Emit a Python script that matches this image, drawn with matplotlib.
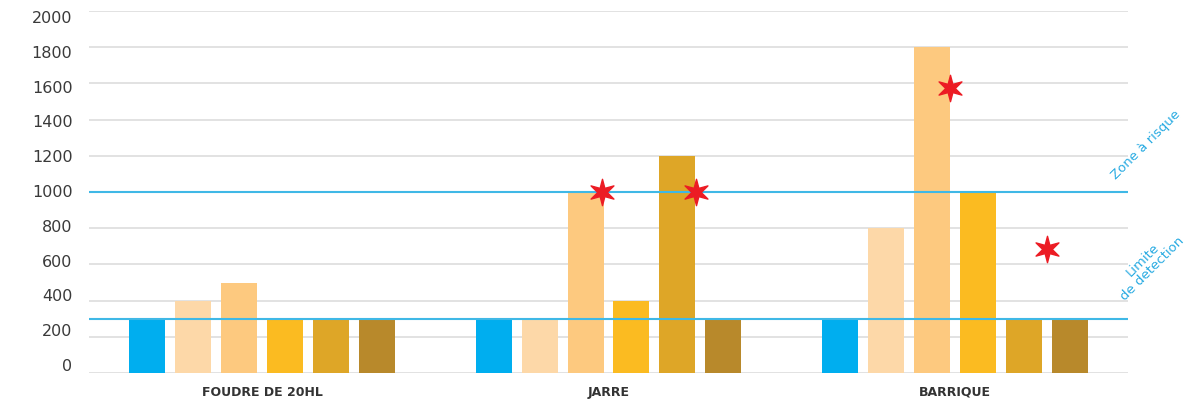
import matplotlib

matplotlib.use("Agg")
import matplotlib.pyplot as plt
import matplotlib.transforms as mtransforms
import numpy as np
from matplotlib.path import Path

# Data
groups = ["FOUDRE DE 20HL", "JARRE", "BARRIQUE"]
series_colors = ["#00AEEF", "#FDD8A8", "#FDC97F", "#FBBB21", "#DEA627", "#B8892B"]
foudre = [300, 400, 500, 300, 300, 300]
jarre = [300, 300, 1000, 400, 1200, 300]
barrique = [300, 800, 1800, 1000, 300, 300]
values = [foudre, jarre, barrique]

# red stars: (group index, bar index, value, shift right in bar steps)
stars_group = [1, 1, 2, 2]
stars_bar = [2, 4, 2, 4]
stars_value = [1000, 1000, 1575, 685]
stars_shift = [0.35, 0.4, 0.4, 0.5]

detection_limit = 300
risk_zone = 1000
yticks = list(range(0, 2001, 200))

BLUE_LINE = "#3FB8E6"
GRID = "#DADADA"
STEP = 0.1326
WIDTH = 0.104


def star_marker(points=6, inner=0.36):
    angles = np.linspace(0, 2 * np.pi, 2 * points, endpoint=False) + np.pi / 2
    radii = np.where(np.arange(2 * points) % 2 == 0, 1.0, inner)
    verts = np.column_stack([radii * np.cos(angles), radii * np.sin(angles)])
    verts = np.vstack([verts, verts[:1]])
    codes = [Path.MOVETO] + [Path.LINETO] * (2 * points - 1) + [Path.CLOSEPOLY]
    return Path(verts, codes)


fig = plt.figure(figsize=(11.89, 4.01), dpi=100)
ax = fig.add_axes([0.0749, 0.0698, 0.8738, 0.9028])

for y in yticks:
    ax.axhline(y, color=GRID, linewidth=1.1, zorder=0)
ax.axhline(risk_zone, color=BLUE_LINE, linewidth=1.5, zorder=3)
ax.axhline(detection_limit, color=BLUE_LINE, linewidth=1.5, zorder=3)

for g, vals in enumerate(values):
    xs = g + (np.arange(len(vals)) - 2.5) * STEP
    ax.bar(xs, vals, width=WIDTH, color=series_colors, zorder=2)

marker = star_marker()
for g, b, v, s in zip(stars_group, stars_bar, stars_value, stars_shift):
    x = g + (b - 2.5 + s) * STEP
    ax.plot(x, v, marker=marker, markersize=19, color="#EC1C24",
            linestyle="none", zorder=4)

ax.set_xlim(-0.5, 2.5)
ax.set_ylim(0, 2000)
ax.set_yticks(yticks)
ax.set_yticklabels([str(t) for t in yticks], fontsize=11.5, color="#3A3A3A")
ax.tick_params(axis="y", length=0, pad=12)
# labels sit a little tighter than the grid: nudge low ones up, high ones down
for t, lab in zip(yticks, ax.get_yticklabels()):
    dy = (8 - 14 * t / 2000) / 100
    lab.set_transform(lab.get_transform()
                      + mtransforms.ScaledTranslation(0, dy, fig.dpi_scale_trans))
ax.set_xticks(range(len(groups)))
ax.set_xticklabels(groups, fontsize=9, fontweight="bold", color="#333333")
ax.tick_params(axis="x", length=0, pad=9)
for side in ax.spines.values():
    side.set_visible(False)

ax.text(1.0176, 0.63, "Zone à risque", transform=ax.transAxes, rotation=45,
        ha="center", va="center", fontsize=9.5, color="#29ABE2")
ax.text(1.0186, 0.3, "Limite\nde detection", transform=ax.transAxes, rotation=45,
        ha="center", va="center", fontsize=9.5, color="#29ABE2",
        multialignment="center", linespacing=1.0)

fig.savefig("out.png", dpi=100)
